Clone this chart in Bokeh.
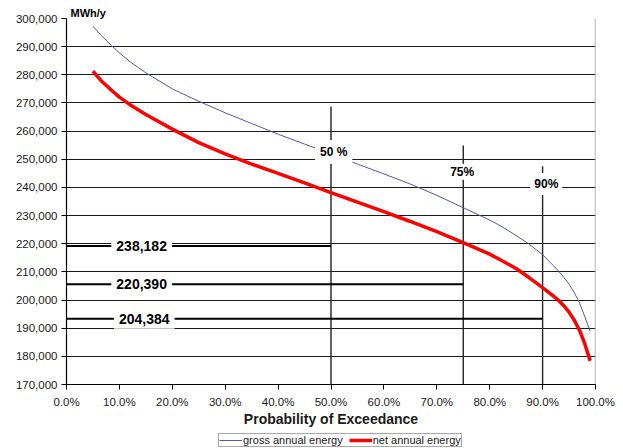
from bokeh.plotting import figure
from bokeh.layouts import column
from bokeh.models import (Range1d, FixedTicker, NumeralTickFormatter, PrintfTickFormatter,
                          Label, Span, Legend, LegendItem)
from bokeh.embed import file_html
from bokeh.resources import INLINE

# Exceedance probability (%) and annual energy yield (MWh/y)
exceedance = [5, 6.5, 8.5, 10, 12, 15, 20, 25, 30, 35, 40, 45, 50, 55, 60, 65, 70, 75, 80,
              82, 85, 87.5, 90, 92, 93, 94, 95, 96, 97, 98, 99]
gross_energy = [297300, 294100, 290400, 287800, 284650, 280700, 275000, 270600, 266500, 262700,
                258900, 255400, 251900, 248300, 244800, 241200, 237200, 232800, 228400,
                226400, 222900, 219800, 216100, 212300, 210300, 208100, 205600, 202600,
                198900, 194000, 188900]
net_energy = [281300, 278000, 274500, 272100, 269400, 265900, 260700, 255900, 251900, 248300,
              245000, 241600, 238182, 234800, 231400, 227900, 224300, 220390, 216300,
              214300, 211200, 207900, 204384, 201500, 199900, 198000, 195700, 192800,
              189200, 184300, 178400]

# P-values of the net yield
pvalue_pct = [50, 75, 90]
pvalue_net = [238182, 220390, 204384]
pvalue_tags = ["50 %", "75%", "90%"]

y_ticks = list(range(170000, 300001, 10000))
x_ticks = list(range(0, 101, 10))

series_names = ["gross annual energy", "net annual energy"]
series_values = [gross_energy, net_energy]
series_colors = ["#5555aa", "#ff0000"]
series_widths = [1, 3.5]

FONT = "Liberation Sans"
INK = "#1a1a1a"

p = figure(width=623, height=433,
           x_range=Range1d(0, 100), y_range=Range1d(170000, 300000),
           output_backend="svg", toolbar_location=None,
           min_border_left=66, min_border_right=28, min_border_top=18, min_border_bottom=49)
# separate scale for the P-value callout bars
p.extra_y_ranges = {"callout": Range1d(173923, 343599)}

p.outline_line_color = None
p.background_fill_color = "white"
p.border_fill_color = "white"

# unit caption above the value axis
p.title.text = "MWh/y"
p.title.align = "left"
p.title.offset = 4
p.title.standoff = 0
p.title.text_font = FONT
p.title.text_font_size = "11px"
p.title.text_font_style = "bold"
p.title.text_color = "black"

# grid
p.xgrid.visible = False
p.ygrid.ticker = FixedTicker(ticks=y_ticks[1:-1])
p.ygrid.grid_line_color = INK
p.ygrid.grid_line_width = 1
p.add_layout(Span(location=100, dimension="height", line_color="#9a9a9a", line_width=1.5))

# axes
for ax in (p.xaxis[0], p.yaxis[0]):
    ax.axis_line_color = "black"
    ax.axis_line_width = 1.2
    ax.major_tick_line_color = "black"
    ax.major_tick_in = 0
    ax.major_tick_out = 5
    ax.minor_tick_line_color = None
    ax.major_label_text_font = FONT
    ax.major_label_text_font_size = "11.5px"
    ax.major_label_text_color = INK

p.yaxis.ticker = FixedTicker(ticks=y_ticks)
p.yaxis.formatter = NumeralTickFormatter(format="0,0")
p.yaxis.major_label_standoff = 4

p.xaxis.ticker = FixedTicker(ticks=x_ticks)
p.xaxis.formatter = PrintfTickFormatter(format="%.1f%%")
p.xaxis.major_label_standoff = 6
p.xaxis.axis_label = "Probability of Exceedance"
p.xaxis.axis_label_text_font = FONT
p.xaxis.axis_label_text_font_size = "14px"
p.xaxis.axis_label_text_font_style = "bold"
p.xaxis.axis_label_text_color = INK
p.xaxis.axis_label_standoff = 0

# vertical P-value markers
marker_tops = [268700, 254900, 247500]
p.segment(x0=pvalue_pct, y0=[p.y_range.start] * 3, x1=pvalue_pct, y1=marker_tops,
          line_color="#222222", line_width=1.4)

# energy curves
for vals, col, w in zip(series_values, series_colors, series_widths):
    p.line(exceedance, vals, line_color=col, line_width=w)

# callout bars for the net P-values
p.segment(x0=[p.x_range.start] * 3, y0=pvalue_net, x1=pvalue_pct, y1=pvalue_net,
          y_range_name="callout", line_color="black", line_width=2)

value_label_x = [14.2, 14.2, 14.7]
for lx, v in zip(value_label_x, pvalue_net):
    p.add_layout(Label(x=lx, y=v, y_range_name="callout", text=f"{v:,}",
                       text_font=FONT, text_font_size="14px", text_font_style="bold",
                       text_color="black", text_align="center", text_baseline="middle",
                       background_fill_color="white", padding=5))

tag_pos = [(50.5, 252570, 5), (74.8, 245550, 1), (90.7, 241185, 4)]
for (tx, ty, pad), tag in zip(tag_pos, pvalue_tags):
    p.add_layout(Label(x=tx, y=ty, text=tag, text_font=FONT, text_font_size="12px",
                       text_font_style="bold", text_color="black", text_align="center",
                       text_baseline="middle", background_fill_color="white", padding=pad))

# legend strip underneath the chart (keys reuse each series' style; the single
# starting point lies outside this strip's range, so nothing is drawn here)
key = figure(width=623, height=15, x_range=Range1d(0, 1), y_range=Range1d(0, 1),
             output_backend="svg", toolbar_location=None, min_border=0)
key.axis.visible = False
key.grid.visible = False
key.outline_line_color = None
key.background_fill_color = "white"
key.border_fill_color = "white"
items = []
for name, vals, col, w in zip(series_names, series_values, series_colors, series_widths):
    r = key.line(exceedance[:1], vals[:1], line_color=col, line_width=w)
    items.append(LegendItem(label=name, renderers=[r]))

legend = Legend(items=items, location=(152, 1), orientation="horizontal",
                label_text_font=FONT, label_text_font_size="11px", label_text_color=INK,
                glyph_width=23, glyph_height=8, label_height=8, label_standoff=1,
                spacing=6, padding=0, margin=0,
                border_line_color="#555555", border_line_width=1,
                background_fill_color="white", background_fill_alpha=1)
key.add_layout(legend)

open("out.html", "w").write(file_html(column(p, key, spacing=0), INLINE))
